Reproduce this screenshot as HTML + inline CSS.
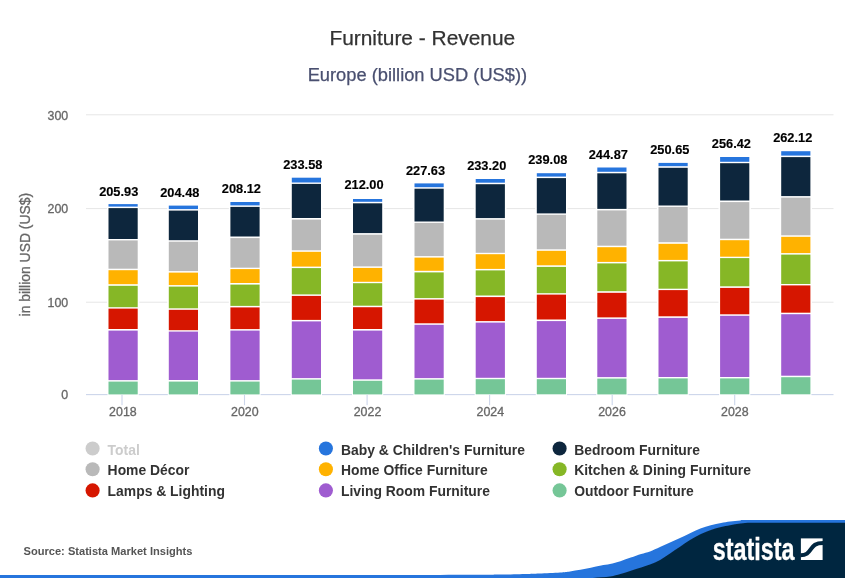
<!DOCTYPE html>
<html><head><meta charset="utf-8"><title>Furniture - Revenue</title>
<style>
html,body{margin:0;padding:0;background:#fff;}
body{width:845px;height:578px;overflow:hidden;font-family:"Liberation Sans",sans-serif;}
svg{display:block;}
text{font-family:"Liberation Sans",sans-serif;}
.r{stroke-width:0.3px;}
</style></head><body>
<svg width="845" height="578" viewBox="0 0 845 578">
<defs><filter id="bl" filterUnits="userSpaceOnUse" x="-10" y="-10" width="865" height="598"><feGaussianBlur stdDeviation="0.4"/></filter></defs>
<g filter="url(#bl)">
<rect x="-10" y="-10" width="865" height="598" fill="#fff"/>
<text x="422.3" y="44.7" text-anchor="middle" font-size="20.9" fill="#333" stroke="#333" stroke-width="0.25">Furniture - Revenue</text>
<text x="417.4" y="81" text-anchor="middle" font-size="18.3" fill="#4a5070" stroke="#4a5070" stroke-width="0.25">Europe (billion USD (US$))</text>
<rect x="86" y="114.3" width="747.5" height="1" fill="#e6e6e6"/>
<rect x="86" y="208.1" width="747.5" height="1" fill="#e6e6e6"/>
<rect x="86" y="301.7" width="747.5" height="1" fill="#e6e6e6"/>
<text x="68.2" y="120.0" text-anchor="end" font-size="12.4" fill="#666" stroke="#666" stroke-width="0.3">300</text>
<text x="68.2" y="213.0" text-anchor="end" font-size="12.4" fill="#666" stroke="#666" stroke-width="0.3">200</text>
<text x="68.2" y="307.0" text-anchor="end" font-size="12.4" fill="#666" stroke="#666" stroke-width="0.3">100</text>
<text x="68.2" y="399.0" text-anchor="end" font-size="12.4" fill="#666" stroke="#666" stroke-width="0.3">0</text>
<text transform="translate(29.5,254.7) rotate(-90)" text-anchor="middle" font-size="13.9" fill="#666" stroke="#666" stroke-width="0.3">in billion USD (US$)</text>
<rect x="106.9" y="202.5" width="32.4" height="193.4" fill="#fff"/><rect x="108.5" y="204.1" width="29.2" height="2.5" fill="#2875dd"/><rect x="108.5" y="208.1" width="29.2" height="30.9" fill="#0f273d"/><rect x="108.5" y="240.4" width="29.2" height="28.3" fill="#b9b9b9"/><rect x="108.5" y="270.2" width="29.2" height="14.0" fill="#ffb200"/><rect x="108.5" y="285.8" width="29.2" height="21.4" fill="#86b726"/><rect x="108.5" y="308.6" width="29.2" height="20.4" fill="#d61900"/><rect x="108.5" y="330.6" width="29.2" height="49.5" fill="#9f5bd0"/><rect x="108.5" y="381.6" width="29.2" height="12.8" fill="#74c697"/>
<text x="118.7" y="196.0" text-anchor="middle" font-size="12.8" font-weight="bold" fill="#000" stroke="#000" stroke-width="0.15">205.93</text>
<rect x="167.2" y="204.0" width="32.4" height="191.9" fill="#fff"/><rect x="168.8" y="205.6" width="29.2" height="3.5" fill="#2875dd"/><rect x="168.8" y="210.6" width="29.2" height="29.6" fill="#0f273d"/><rect x="168.8" y="241.7" width="29.2" height="29.4" fill="#b9b9b9"/><rect x="168.8" y="272.6" width="29.2" height="12.5" fill="#ffb200"/><rect x="168.8" y="286.6" width="29.2" height="21.7" fill="#86b726"/><rect x="168.8" y="309.8" width="29.2" height="20.4" fill="#d61900"/><rect x="168.8" y="331.6" width="29.2" height="48.4" fill="#9f5bd0"/><rect x="168.8" y="381.6" width="29.2" height="12.8" fill="#74c697"/>
<text x="179.8" y="197.0" text-anchor="middle" font-size="12.8" font-weight="bold" fill="#000" stroke="#000" stroke-width="0.15">204.48</text>
<rect x="228.8" y="200.4" width="32.4" height="195.5" fill="#fff"/><rect x="230.4" y="202.0" width="29.2" height="3.4" fill="#2875dd"/><rect x="230.4" y="206.9" width="29.2" height="29.6" fill="#0f273d"/><rect x="230.4" y="238.1" width="29.2" height="29.6" fill="#b9b9b9"/><rect x="230.4" y="269.1" width="29.2" height="13.9" fill="#ffb200"/><rect x="230.4" y="284.6" width="29.2" height="21.3" fill="#86b726"/><rect x="230.4" y="307.4" width="29.2" height="21.7" fill="#d61900"/><rect x="230.4" y="330.6" width="29.2" height="49.5" fill="#9f5bd0"/><rect x="230.4" y="381.6" width="29.2" height="12.8" fill="#74c697"/>
<text x="241.4" y="193.0" text-anchor="middle" font-size="12.8" font-weight="bold" fill="#000" stroke="#000" stroke-width="0.15">208.12</text>
<rect x="290.2" y="176.1" width="32.4" height="219.8" fill="#fff"/><rect x="291.8" y="177.7" width="29.2" height="4.8" fill="#2875dd"/><rect x="291.8" y="183.9" width="29.2" height="34.1" fill="#0f273d"/><rect x="291.8" y="219.6" width="29.2" height="30.7" fill="#b9b9b9"/><rect x="291.8" y="251.8" width="29.2" height="14.8" fill="#ffb200"/><rect x="291.8" y="268.1" width="29.2" height="26.3" fill="#86b726"/><rect x="291.8" y="295.9" width="29.2" height="24.0" fill="#d61900"/><rect x="291.8" y="321.4" width="29.2" height="56.7" fill="#9f5bd0"/><rect x="291.8" y="379.6" width="29.2" height="14.8" fill="#74c697"/>
<text x="302.8" y="169.0" text-anchor="middle" font-size="12.8" font-weight="bold" fill="#000" stroke="#000" stroke-width="0.15">233.58</text>
<rect x="351.4" y="197.4" width="32.4" height="198.5" fill="#fff"/><rect x="353.0" y="199.0" width="29.2" height="2.8" fill="#2875dd"/><rect x="353.0" y="203.3" width="29.2" height="29.8" fill="#0f273d"/><rect x="353.0" y="234.7" width="29.2" height="31.7" fill="#b9b9b9"/><rect x="353.0" y="267.9" width="29.2" height="13.9" fill="#ffb200"/><rect x="353.0" y="283.2" width="29.2" height="22.5" fill="#86b726"/><rect x="353.0" y="307.2" width="29.2" height="21.8" fill="#d61900"/><rect x="353.0" y="330.6" width="29.2" height="48.7" fill="#9f5bd0"/><rect x="353.0" y="380.8" width="29.2" height="13.6" fill="#74c697"/>
<text x="364.0" y="189.0" text-anchor="middle" font-size="12.8" font-weight="bold" fill="#000" stroke="#000" stroke-width="0.15">212.00</text>
<rect x="412.9" y="181.8" width="32.4" height="214.1" fill="#fff"/><rect x="414.5" y="183.4" width="29.2" height="3.8" fill="#2875dd"/><rect x="414.5" y="188.7" width="29.2" height="32.8" fill="#0f273d"/><rect x="414.5" y="222.9" width="29.2" height="33.2" fill="#b9b9b9"/><rect x="414.5" y="257.6" width="29.2" height="13.2" fill="#ffb200"/><rect x="414.5" y="272.4" width="29.2" height="25.7" fill="#86b726"/><rect x="414.5" y="299.6" width="29.2" height="23.7" fill="#d61900"/><rect x="414.5" y="324.8" width="29.2" height="53.3" fill="#9f5bd0"/><rect x="414.5" y="379.6" width="29.2" height="14.8" fill="#74c697"/>
<text x="425.5" y="175.0" text-anchor="middle" font-size="12.8" font-weight="bold" fill="#000" stroke="#000" stroke-width="0.15">227.63</text>
<rect x="474.1" y="177.4" width="32.4" height="218.5" fill="#fff"/><rect x="475.7" y="179.0" width="29.2" height="3.7" fill="#2875dd"/><rect x="475.7" y="184.2" width="29.2" height="33.9" fill="#0f273d"/><rect x="475.7" y="219.6" width="29.2" height="33.2" fill="#b9b9b9"/><rect x="475.7" y="254.2" width="29.2" height="14.7" fill="#ffb200"/><rect x="475.7" y="270.4" width="29.2" height="25.1" fill="#86b726"/><rect x="475.7" y="297.1" width="29.2" height="24.0" fill="#d61900"/><rect x="475.7" y="322.6" width="29.2" height="55.2" fill="#9f5bd0"/><rect x="475.7" y="379.2" width="29.2" height="15.1" fill="#74c697"/>
<text x="486.7" y="170.0" text-anchor="middle" font-size="12.8" font-weight="bold" fill="#000" stroke="#000" stroke-width="0.15">233.20</text>
<rect x="535.2" y="171.6" width="32.4" height="224.3" fill="#fff"/><rect x="536.8" y="173.2" width="29.2" height="3.4" fill="#2875dd"/><rect x="536.8" y="178.1" width="29.2" height="35.3" fill="#0f273d"/><rect x="536.8" y="214.8" width="29.2" height="34.5" fill="#b9b9b9"/><rect x="536.8" y="250.8" width="29.2" height="14.5" fill="#ffb200"/><rect x="536.8" y="266.9" width="29.2" height="26.3" fill="#86b726"/><rect x="536.8" y="294.6" width="29.2" height="24.9" fill="#d61900"/><rect x="536.8" y="321.1" width="29.2" height="56.7" fill="#9f5bd0"/><rect x="536.8" y="379.2" width="29.2" height="15.1" fill="#74c697"/>
<text x="547.8" y="164.0" text-anchor="middle" font-size="12.8" font-weight="bold" fill="#000" stroke="#000" stroke-width="0.15">239.08</text>
<rect x="595.7" y="165.9" width="32.4" height="230.0" fill="#fff"/><rect x="597.3" y="167.5" width="29.2" height="4.3" fill="#2875dd"/><rect x="597.3" y="173.3" width="29.2" height="35.6" fill="#0f273d"/><rect x="597.3" y="210.4" width="29.2" height="35.3" fill="#b9b9b9"/><rect x="597.3" y="247.2" width="29.2" height="14.7" fill="#ffb200"/><rect x="597.3" y="263.4" width="29.2" height="27.8" fill="#86b726"/><rect x="597.3" y="292.8" width="29.2" height="24.6" fill="#d61900"/><rect x="597.3" y="318.9" width="29.2" height="58.2" fill="#9f5bd0"/><rect x="597.3" y="378.6" width="29.2" height="15.8" fill="#74c697"/>
<text x="608.3" y="159.0" text-anchor="middle" font-size="12.8" font-weight="bold" fill="#000" stroke="#000" stroke-width="0.15">244.87</text>
<rect x="656.9" y="161.3" width="32.4" height="234.6" fill="#fff"/><rect x="658.5" y="162.9" width="29.2" height="3.3" fill="#2875dd"/><rect x="658.5" y="167.8" width="29.2" height="37.7" fill="#0f273d"/><rect x="658.5" y="206.9" width="29.2" height="35.3" fill="#b9b9b9"/><rect x="658.5" y="243.8" width="29.2" height="16.1" fill="#ffb200"/><rect x="658.5" y="261.4" width="29.2" height="27.3" fill="#86b726"/><rect x="658.5" y="290.1" width="29.2" height="26.2" fill="#d61900"/><rect x="658.5" y="317.9" width="29.2" height="59.1" fill="#9f5bd0"/><rect x="658.5" y="378.4" width="29.2" height="15.9" fill="#74c697"/>
<text x="669.8" y="154.0" text-anchor="middle" font-size="12.8" font-weight="bold" fill="#000" stroke="#000" stroke-width="0.15">250.65</text>
<rect x="718.5" y="155.4" width="32.4" height="240.5" fill="#fff"/><rect x="720.1" y="157.0" width="29.2" height="4.8" fill="#2875dd"/><rect x="720.1" y="163.2" width="29.2" height="37.3" fill="#0f273d"/><rect x="720.1" y="202.1" width="29.2" height="36.6" fill="#b9b9b9"/><rect x="720.1" y="240.2" width="29.2" height="16.5" fill="#ffb200"/><rect x="720.1" y="258.1" width="29.2" height="28.2" fill="#86b726"/><rect x="720.1" y="287.9" width="29.2" height="26.4" fill="#d61900"/><rect x="720.1" y="315.8" width="29.2" height="61.2" fill="#9f5bd0"/><rect x="720.1" y="378.4" width="29.2" height="15.9" fill="#74c697"/>
<text x="731.4" y="148.0" text-anchor="middle" font-size="12.8" font-weight="bold" fill="#000" stroke="#000" stroke-width="0.15">256.42</text>
<rect x="779.6" y="149.6" width="32.4" height="246.3" fill="#fff"/><rect x="781.2" y="151.2" width="29.2" height="4.4" fill="#2875dd"/><rect x="781.2" y="157.1" width="29.2" height="39.0" fill="#0f273d"/><rect x="781.2" y="197.6" width="29.2" height="37.7" fill="#b9b9b9"/><rect x="781.2" y="236.8" width="29.2" height="16.3" fill="#ffb200"/><rect x="781.2" y="254.6" width="29.2" height="29.4" fill="#86b726"/><rect x="781.2" y="285.4" width="29.2" height="27.3" fill="#d61900"/><rect x="781.2" y="314.2" width="29.2" height="61.5" fill="#9f5bd0"/><rect x="781.2" y="377.2" width="29.2" height="17.1" fill="#74c697"/>
<text x="792.7" y="142.0" text-anchor="middle" font-size="12.8" font-weight="bold" fill="#000" stroke="#000" stroke-width="0.15">262.12</text>
<rect x="86.0" y="394.05" width="21.5" height="1.1" fill="#ccd6eb"/><rect x="138.7" y="394.05" width="29.1" height="1.1" fill="#ccd6eb"/><rect x="199.0" y="394.05" width="30.4" height="1.1" fill="#ccd6eb"/><rect x="260.6" y="394.05" width="30.2" height="1.1" fill="#ccd6eb"/><rect x="322.0" y="394.05" width="30.0" height="1.1" fill="#ccd6eb"/><rect x="383.2" y="394.05" width="30.3" height="1.1" fill="#ccd6eb"/><rect x="444.7" y="394.05" width="30.0" height="1.1" fill="#ccd6eb"/><rect x="505.9" y="394.05" width="29.9" height="1.1" fill="#ccd6eb"/><rect x="567.0" y="394.05" width="29.3" height="1.1" fill="#ccd6eb"/><rect x="627.5" y="394.05" width="30.0" height="1.1" fill="#ccd6eb"/><rect x="688.7" y="394.05" width="30.4" height="1.1" fill="#ccd6eb"/><rect x="750.3" y="394.05" width="29.9" height="1.1" fill="#ccd6eb"/><rect x="811.4" y="394.05" width="22.1" height="1.1" fill="#ccd6eb"/>
<rect x="121.45" y="394.6" width="1.1" height="10.6" fill="#ccd6eb"/><text x="122.9" y="416" text-anchor="middle" font-size="12.4" fill="#666" stroke="#666" stroke-width="0.3">2018</text>
<rect x="243.95" y="394.6" width="1.1" height="10.6" fill="#ccd6eb"/><text x="244.8" y="416" text-anchor="middle" font-size="12.4" fill="#666" stroke="#666" stroke-width="0.3">2020</text>
<rect x="366.55" y="394.6" width="1.1" height="10.6" fill="#ccd6eb"/><text x="367.5" y="416" text-anchor="middle" font-size="12.4" fill="#666" stroke="#666" stroke-width="0.3">2022</text>
<rect x="489.05" y="394.6" width="1.1" height="10.6" fill="#ccd6eb"/><text x="490.3" y="416" text-anchor="middle" font-size="12.4" fill="#666" stroke="#666" stroke-width="0.3">2024</text>
<rect x="611.65" y="394.6" width="1.1" height="10.6" fill="#ccd6eb"/><text x="612.0" y="416" text-anchor="middle" font-size="12.4" fill="#666" stroke="#666" stroke-width="0.3">2026</text>
<rect x="734.15" y="394.6" width="1.1" height="10.6" fill="#ccd6eb"/><text x="734.8" y="416" text-anchor="middle" font-size="12.4" fill="#666" stroke="#666" stroke-width="0.3">2028</text>
<circle cx="92.6" cy="448.5" r="7.05" fill="#cccccc"/><text x="107.6" y="455" font-size="13.9" font-weight="bold" fill="#cccccc">Total</text>
<circle cx="92.6" cy="469.3" r="7.05" fill="#b9b9b9"/><text x="107.6" y="475" font-size="13.9" font-weight="bold" fill="#333">Home Décor</text>
<circle cx="92.6" cy="490.4" r="7.05" fill="#d61900"/><text x="107.6" y="496" font-size="13.9" font-weight="bold" fill="#333">Lamps &amp; Lighting</text>
<circle cx="325.9" cy="448.5" r="7.05" fill="#2875dd"/><text x="341" y="455" font-size="13.9" font-weight="bold" fill="#333">Baby &amp; Children's Furniture</text>
<circle cx="325.9" cy="469.3" r="7.05" fill="#ffb200"/><text x="341" y="475" font-size="13.9" font-weight="bold" fill="#333">Home Office Furniture</text>
<circle cx="325.9" cy="490.4" r="7.05" fill="#9f5bd0"/><text x="341" y="496" font-size="13.9" font-weight="bold" fill="#333">Living Room Furniture</text>
<circle cx="559.6" cy="448.5" r="7.05" fill="#0f273d"/><text x="574.2" y="455" font-size="13.9" font-weight="bold" fill="#333">Bedroom Furniture</text>
<circle cx="559.6" cy="469.3" r="7.05" fill="#86b726"/><text x="574.2" y="475" font-size="13.9" font-weight="bold" fill="#333">Kitchen &amp; Dining Furniture</text>
<circle cx="559.6" cy="490.4" r="7.05" fill="#74c697"/><text x="574.2" y="496" font-size="13.9" font-weight="bold" fill="#333">Outdoor Furniture</text>
<text x="23.5" y="554.5" font-size="11.1" font-weight="bold" fill="#555">Source: Statista Market Insights</text>
<path d="M-10.0,574.9 C65.0,574.9 355.5,574.9 440.0,574.9 C524.5,574.9 482.8,574.8 497.0,574.6 C511.2,574.5 517.9,574.2 525.0,574.0 C532.1,573.8 533.6,573.8 539.4,573.5 C545.2,573.2 554.9,572.9 560.0,572.5 C565.1,572.1 566.6,571.9 570.0,571.4 C573.4,570.9 576.9,570.4 580.4,569.8 C583.9,569.2 587.3,568.4 590.8,567.7 C594.2,567.0 597.9,566.2 601.1,565.6 C604.3,565.0 606.8,564.8 610.0,564.1 C613.2,563.4 616.9,562.3 620.4,561.2 C623.9,560.1 627.3,558.8 630.8,557.6 C634.2,556.4 637.9,555.0 641.1,554.0 C644.3,553.0 646.9,552.5 650.0,551.4 C653.1,550.2 656.7,548.5 660.0,547.0 C663.3,545.5 666.7,544.0 670.0,542.5 C673.3,541.0 676.7,539.5 680.0,538.0 C683.3,536.5 686.6,534.9 690.0,533.3 C693.4,531.7 696.9,530.0 700.4,528.6 C703.9,527.2 707.3,526.2 710.8,525.2 C714.2,524.2 717.9,523.5 721.1,522.9 C724.3,522.3 726.8,521.8 730.0,521.4 C733.2,521.0 736.9,520.6 740.4,520.4 C743.9,520.1 731.5,520.1 750.8,520.0 C770.1,519.9 838.5,520.0 856.0,520.0 L856,590 L-10,590 Z" fill="#2875dd"/>
<path d="M575.0,581.0 C578.0,580.5 587.0,578.8 592.8,578.0 C598.6,577.2 605.4,577.1 610.0,576.4 C614.6,575.7 616.9,574.8 620.4,573.9 C623.9,573.0 627.3,571.9 630.8,570.8 C634.2,569.7 637.9,568.5 641.1,567.5 C644.3,566.5 646.8,565.9 650.0,564.6 C653.2,563.4 656.8,561.9 660.1,560.0 C663.4,558.1 666.7,555.7 670.0,553.5 C673.3,551.3 676.7,549.0 680.0,546.8 C683.3,544.6 686.6,542.1 690.0,540.0 C693.4,538.0 696.9,536.0 700.4,534.3 C703.9,532.6 707.3,531.1 710.8,529.9 C714.2,528.7 717.9,527.8 721.1,527.0 C724.3,526.2 726.8,525.9 730.0,525.3 C733.2,524.7 736.9,524.0 740.4,523.6 C743.9,523.2 745.9,522.9 750.8,522.8 C755.7,522.6 752.5,522.7 770.0,522.7 C787.5,522.7 841.7,522.7 856.0,522.7 L856,590 L575,590 Z" fill="#05273f"/>
<text transform="translate(712.8,559.6) scale(0.778,1.03)" font-size="30" font-weight="bold" fill="#fff" stroke="#fff" stroke-width="0.3">statista</text>
<g transform="translate(800.9,538.4)"><rect width="21.7" height="21.6" fill="#fff"/><path d="M-0.5,16.9 C5.5,16.9 7.6,14.3 10.0,10.8 C12.4,7.3 14.5,4.6 22.2,4.6" stroke="#05273f" stroke-width="4.1" fill="none"/></g>
</g></svg></body></html>
